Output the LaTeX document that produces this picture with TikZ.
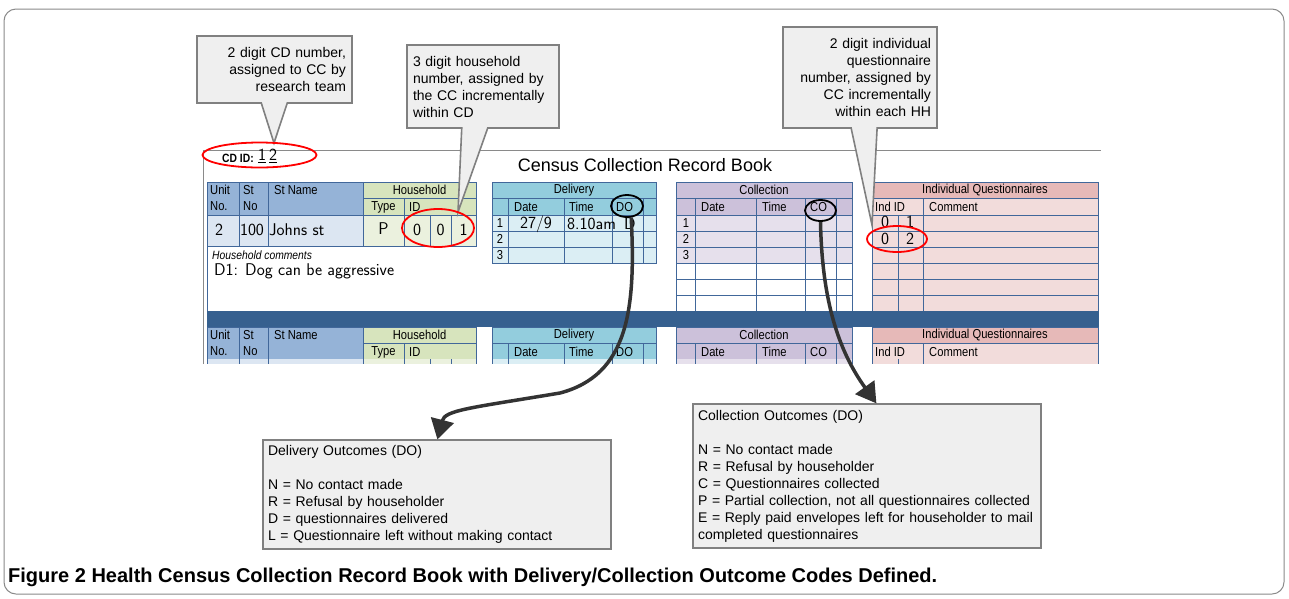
\documentclass[tikz,border=0pt]{standalone}
\usepackage{fontspec}
\setmainfont{Liberation Sans}
\newfontfamily\tblfont{Liberation Sans}[FakeStretch=0.86]
\usetikzlibrary{shapes.geometric,shapes.callouts,arrows.meta}

\definecolor{framegray}{HTML}{8A8A8A}
\definecolor{notefill}{HTML}{EFEFEF}
\definecolor{noteline}{HTML}{808080}
\definecolor{gridblue}{HTML}{41679A}
\definecolor{bandblue}{HTML}{36608F}
\definecolor{unithead}{HTML}{95B3D7}
\definecolor{unitdata}{HTML}{DCE6F2}
\definecolor{hhhead}{HTML}{D7E4BD}
\definecolor{hhdata}{HTML}{EBF1DE}
\definecolor{delhead}{HTML}{93CDDD}
\definecolor{deldata}{HTML}{DBEEF4}
\definecolor{colhead}{HTML}{CCC1DA}
\definecolor{coldata}{HTML}{E6E0EC}
\definecolor{iqhead}{HTML}{E6B9B8}
\definecolor{iqdata}{HTML}{F2DCDB}
\definecolor{arrowgray}{HTML}{333333}

\tikzset{
  note/.style={rectangle callout, draw=noteline, fill=notefill, line width=1.6pt,
    font=\fontsize{14}{17}\selectfont, inner xsep=6pt, inner ysep=0pt,
    callout pointer width=26pt},
  codebox/.style={draw=noteline, fill=notefill, line width=1.2pt,
    font=\fontsize{14}{17}\selectfont, align=left, inner xsep=5pt, inner ysep=0pt,
    minimum width=348pt, text width=338pt},
  gridline/.style={draw=gridblue, line width=0.9pt},
  hd/.style={font=\tblfont\fontsize{13}{13}\selectfont, inner sep=0pt},
  hand/.style={font=\sffamily\fontsize{17}{17}\selectfont, inner sep=0pt},
  ring/.style={ellipse, draw=red, line width=1.8pt, inner sep=0pt},
  blackring/.style={ellipse, draw=black, line width=1.8pt, inner sep=0pt},
  outarrow/.style={draw=arrowgray, line width=3.5pt, -{Triangle[length=20pt,width=23pt]}}
}

\begin{document}
\begin{tikzpicture}[x=1pt,y=-1pt]
\useasboundingbox (0,0) rectangle (1289,598);
\fill[white] (0,0) rectangle (1289,598);
\draw[framegray, line width=1pt, rounded corners=12pt] (4,9) rectangle (1284,594);

% record book page
\draw[framegray, line width=1pt] (203,364) -- (203,150) -- (1101,150);
\node[font=\tblfont\bfseries\fontsize{12}{12}\selectfont, anchor=west, inner sep=0pt] (cdid) at (222,158) {CD ID:};
\node[hand, anchor=west] (cdnum) at (258,156) {\underline{1}\,\underline{2}};
\node[font=\fontsize{18}{18}\selectfont, inner sep=0pt] (booktitle) at (645,165) {Census Collection Record Book};

% header rows, first and second record
\foreach \oy/\s in {0/a,145/b}
{
\begin{scope}[yshift=-\oy pt]
  \fill[unithead] (207,182) rectangle (363,215);
  \fill[hhhead] (363,182) rectangle (476,215);
  \fill[delhead] (492,182) rectangle (656,215);
  \fill[colhead] (676,182) rectangle (852,215);
  \fill[iqhead] (872,182) rectangle (1098,198);
  \fill[iqdata] (872,198) rectangle (1098,215);
  \draw[gridline] (207,182) rectangle (476,215);
  \draw[gridline] (239,182) -- (239,215) (268,182) -- (268,215) (363,182) -- (363,215);
  \draw[gridline] (363,198) -- (476,198) (404,198) -- (404,215);
  \draw[gridline] (492,182) rectangle (656,215) (492,198) -- (656,198);
  \foreach \xx in {508,564,612,643} \draw[gridline] (\xx,198) -- (\xx,215);
  \draw[gridline] (676,182) rectangle (852,215) (676,198) -- (852,198);
  \foreach \xx in {695,756,805,836} \draw[gridline] (\xx,198) -- (\xx,215);
  \draw[gridline] (872,182) rectangle (1098,215) (872,198) -- (1098,198) (923,198) -- (923,215);
  \node[hd, anchor=west] (unit\s) at (210,190) {Unit};
  \node[hd, anchor=west] (unitno\s) at (210,206.5) {No.};
  \node[hd, anchor=west] (st\s) at (243,190) {St};
  \node[hd, anchor=west] (stno\s) at (243,206.5) {No};
  \node[hd, anchor=west] (stname\s) at (274,190) {St Name};
  \node[hd] (hh\s) at (419.5,190) {Household};
  \node[hd] (type\s) at (383.5,207) {Type};
  \node[hd, anchor=west] (hhid\s) at (409,207) {ID};
  \node[hd] (del\s) at (574,190) {Delivery};
  \node[hd, anchor=west] (deldate\s) at (514,207) {Date};
  \node[hd, anchor=west] (deltime\s) at (569,207) {Time};
  \node[hd, anchor=west] (deldo\s) at (616,207) {DO};
  \node[hd] (col\s) at (764,190) {Collection};
  \node[hd, anchor=west] (coldate\s) at (701,207) {Date};
  \node[hd, anchor=west] (coltime\s) at (762,207) {Time};
  \node[hd, anchor=west] (colco\s) at (810,207) {CO};
  \node[hd] (iq\s) at (985,190) {Individual Questionnaires};
  \node[hd, anchor=west] (indid\s) at (875,207) {Ind ID};
  \node[hd, anchor=west] (comment\s) at (929,207) {Comment};
\end{scope}
}

% first record, data rows
\fill[unitdata] (207,215) rectangle (363,246);
\fill[hhdata] (363,215) rectangle (476,246);
\draw[gridline] (207,215) rectangle (476,246);
\foreach \xx in {239,268,363,404,430,451} \draw[gridline] (\xx,215) -- (\xx,246);
\draw[gridline] (207,246) -- (207,311);
\fill[deldata] (492,215) rectangle (656,263);
\draw[gridline] (492,215) rectangle (656,263);
\foreach \yy in {231,247} \draw[gridline] (492,\yy) -- (656,\yy);
\foreach \xx in {508,564,612,643} \draw[gridline] (\xx,215) -- (\xx,263);
\fill[coldata] (676,215) rectangle (852,263);
\draw[gridline] (676,215) rectangle (852,311);
\foreach \yy in {231,247,263,279,295} \draw[gridline] (676,\yy) -- (852,\yy);
\foreach \xx in {695,756,805,836} \draw[gridline] (\xx,215) -- (\xx,311);
\fill[iqdata] (872,215) rectangle (1098,311);
\draw[gridline] (872,215) rectangle (1098,311);
\foreach \yy in {231,247,263,279,295} \draw[gridline] (872,\yy) -- (1098,\yy);
\foreach \xx in {898,923} \draw[gridline] (\xx,215) -- (\xx,311);
\foreach \i/\yy in {1/223,2/239,3/255}
{
  \node[hd] (delno\i) at (500,\yy) {\i};
  \node[hd] (colno\i) at (686,\yy) {\i};
}

% handwritten entries
\node[hand] (unitval) at (219,230) {2};
\node[hand] (stval) at (252,230) {100};
\node[hand, anchor=west] (nameval) at (269,230) {Johns st};
\node[hand] (typeval) at (383.5,229) {P};
\node[hand] (idone) at (417,230) {0};
\node[hand] (idtwo) at (440.5,230) {0};
\node[hand] (idthree) at (463.5,230) {1};
\node[font=\tblfont\itshape\fontsize{12}{12}\selectfont, anchor=west, inner sep=0pt] (hhcom) at (212,255) {Household comments};
\node[hand, anchor=west] (hhcomval) at (214,271) {D1: Dog can be aggressive};
\node[hand] (dateval) at (536,224) {27/9};
\node[hand, anchor=west] (timeval) at (567,224) {8.10am};
\node[hand] (doval) at (630,224) {D};
\node[hand] (indone) at (885,222) {0};
\node[hand] (indtwo) at (910,222) {1};
\node[hand] (indthree) at (885,239) {0};
\node[hand] (indfour) at (910,239) {2};

% band between records
\fill[bandblue] (207,311) rectangle (1099,327);

% second record, top of first row
\fill[unitdata] (207,359) rectangle (363,364);
\fill[hhdata] (363,359) rectangle (476,364);
\fill[deldata] (492,359) rectangle (656,364);
\fill[coldata] (676,359) rectangle (852,364);
\fill[iqdata] (872,359) rectangle (1098,364);
\foreach \xx in {207,239,268,363,404,430,451,476,492,508,564,612,643,656,676,695,756,805,836,852,872,898,923,1098}
  \draw[gridline] (\xx,359) -- (\xx,364);

% callouts
\node[note, minimum width=155pt, minimum height=67pt, text width=143pt, align=right,
  callout absolute pointer={(274,143)}] (cdnote) at (274.5,69.5)
  {2 digit CD number,\\assigned to CC by\\research team};
\node[note, minimum width=152pt, minimum height=83pt, text width=140pt, align=left,
  callout absolute pointer={(458,212)}] (hhnote) at (483,86.5)
  {3 digit household\\number, assigned by\\the CC incrementally\\within CD};
\node[note, minimum width=154pt, minimum height=101pt, text width=142pt, align=right,
  callout absolute pointer={(872,225)}] (indnote) at (860,77.5)
  {2 digit individual\\questionnaire\\number, assigned by\\CC incrementally\\within each HH};

% marks
\node[ring, minimum width=114pt, minimum height=25pt] (cdring) at (259.5,155) {};
\node[ring, minimum width=72pt, minimum height=38pt] (hhring) at (438,228) {};
\node[ring, minimum width=60pt, minimum height=26pt] (indring) at (897,239) {};
\node[blackring, minimum width=32pt, minimum height=22pt] (docirc) at (627,206) {};
\node[blackring, minimum width=31pt, minimum height=21pt] (cocirc) at (820.5,210.5) {};

% outcome code boxes
\node[codebox, minimum height=109pt] (dobox) at (437,494.5)
  {Delivery Outcomes (DO)\\\mbox{}\\N = No contact made\\R = Refusal by householder\\D = questionnaires delivered\\L = Questionnaire left without making contact};
\node[codebox, minimum height=144pt] (cobox) at (867,476)
  {Collection Outcomes (DO)\\\mbox{}\\N = No contact made\\R = Refusal by householder\\C = Questionnaires collected\\P = Partial collection, not all questionnaires collected\\E = Reply paid envelopes left for householder to mail\\completed questionnaires};

\draw[outarrow] (docirc.-70) .. controls (636,310) and (628,375) .. (560,393)
  .. controls (470,408) and (445,410) .. ([xshift=175pt]dobox.north west);
\draw[outarrow] (cocirc.south) .. controls (822,300) and (838,350) .. ([xshift=184pt]cobox.north west);

\node[font=\bfseries\fontsize{20}{20}\selectfont, anchor=west, inner sep=0pt] (caption) at (8,577)
  {Figure 2 Health Census Collection Record Book with Delivery/Collection Outcome Codes Defined.};
\end{tikzpicture}
\end{document}
